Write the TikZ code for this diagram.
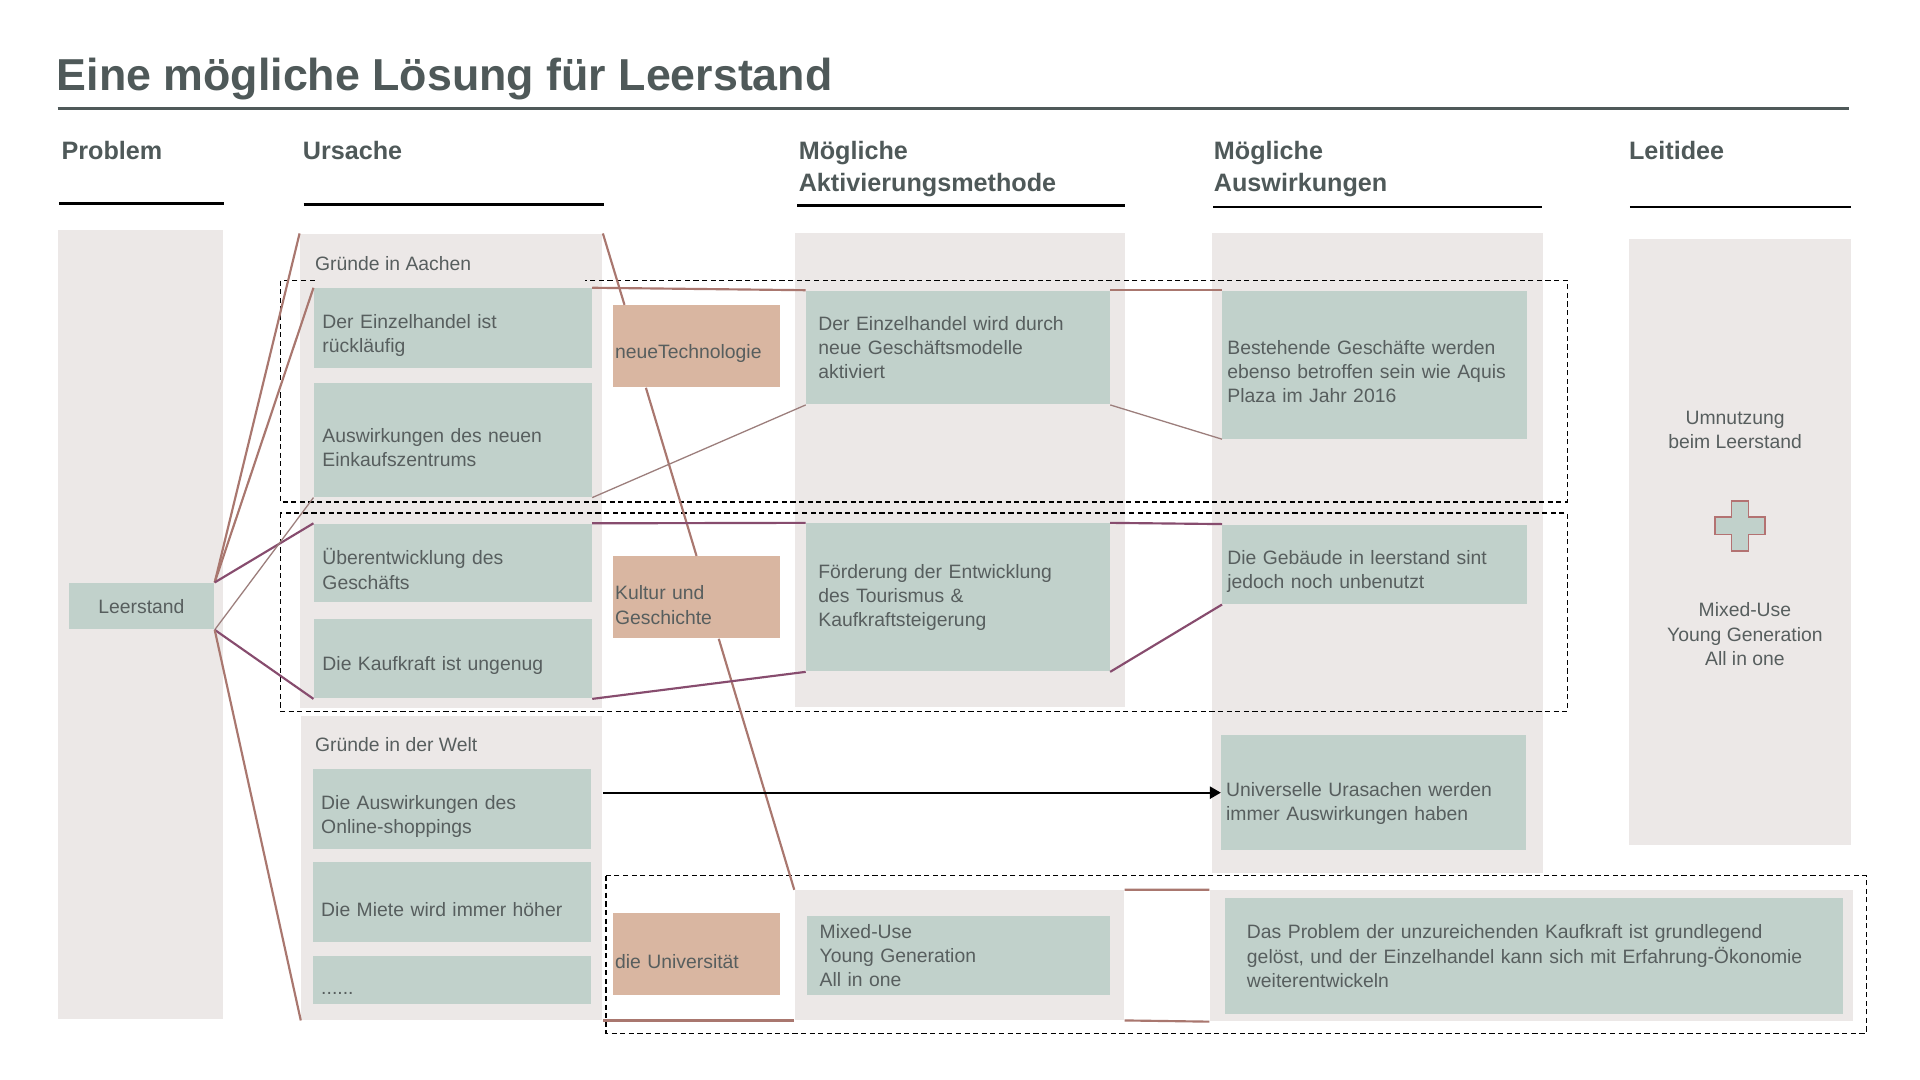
\documentclass[tikz,border=0pt]{standalone}
\usepackage{fontspec}
\setmainfont{Liberation Sans}
\usetikzlibrary{positioning,fit,arrows.meta}

\definecolor{pgray}{HTML}{ECE8E7}
\definecolor{sage}{HTML}{C1D1CB}
\definecolor{sand}{HTML}{D9B6A1}
\definecolor{ink}{HTML}{575E5E}
\definecolor{slate}{HTML}{4F5959}
\definecolor{rust}{HTML}{A9776F}
\definecolor{plum}{HTML}{874C6E}
\definecolor{mauve}{HTML}{9C7E7C}
\definecolor{crossred}{HTML}{B37272}

\begin{document}
\begin{tikzpicture}[x=0.02cm,y=-0.02cm,
    panel/.style={fill=pgray,draw=none,inner sep=0pt},
    card/.style={fill=sage,anchor=north west,align=left,inner ysep=0pt,text=ink,
      font=\fontsize{9}{11.3}\selectfont},
    low/.style={execute at begin node={\vskip#1}},
    ursache/.style={card,text width=4.26cm,inner xsep=0.14cm,low=2pt},
    aktiv/.style={card,text width=4.56cm,inner xsep=0.2cm},
    wirkung/.style={card,text width=4.82cm,inner xsep=0.08cm,low=1.7pt},
    tag/.style={card,fill=sand,text width=2.66cm,inner xsep=0.04cm,minimum height=1.34cm,low=2.3pt},
    lbl/.style={anchor=west,inner sep=0pt,text=ink,font=\fontsize{9}{11.3}\selectfont},
    head/.style={anchor=north west,inner sep=0pt,align=left,text=slate,
      font=\fontsize{11.7}{14.7}\selectfont\bfseries},
    rule/.style={line width=1.3pt},
    frame/.style={line width=0.6pt,dash pattern=on 2.4pt off 1.6pt},
    link/.style={rust,line width=1pt},
    thin/.style={mauve,line width=0.6pt},
    plink/.style={plum,line width=1pt}]

  \useasboundingbox (0,0) rectangle (1568,882);
  \fill[white] (0,0) rectangle (1568,882);

  % title
  \node[anchor=base west,inner sep=0pt,text=slate,font=\fontsize{20.8}{24}\selectfont\bfseries]
    (title) at (46,74) {Eine mögliche Lösung für Leerstand};
  \draw[slate,line width=1.4pt] (47,89) -- (1510,89);

  % column heads
  \node[head] (hp) at (50,115) {Problem};
  \node[head] (hu) at (247,115) {Ursache};
  \node[head] (ha) at (652,115) {Mögliche\\Aktivierungsmethode};
  \node[head] (hw) at (991,115) {Mögliche\\Auswirkungen};
  \node[head] (hl) at (1330,115) {Leitidee};
  \draw[rule] (48,166) -- (183,166);
  \draw[rule] (248,167) -- (493,167);
  \draw[rule] (651,168) -- (919,168);
  \draw[rule] (991,169) -- (1259,169);
  \draw[rule] (1331,169) -- (1512,169);

  % background panels
  \node[panel,fit={(47,188) (182,832)}] (pprob) {};
  \node[panel,fit={(245,191) (492,578)}] (paachen) {};
  \node[panel,fit={(246,585) (492,833)}] (pwelt) {};
  \node[panel,fit={(649,190) (919,577)}] (pakt) {};
  \node[panel,fit={(649,727) (918,833)}] (pmix) {};
  \node[panel,fit={(990,190) (1260,713)}] (pausw) {};
  \node[panel,fit={(988,727) (1513,834)}] (perg) {};
  \node[panel,fit={(1330,195) (1512,690)}] (pleit) {};

  % dashed groups
  \draw[frame] (257,229) -- (229,229) -- (229,410) -- (1280,410) -- (1280,229) -- (478,229);
  \draw[frame] (229,419) rectangle (1280,581);
  \draw[frame] (495,715) rectangle (1524,844);

  % Problem
  \node[card,anchor=center,align=center,minimum width=2.38cm,minimum height=0.76cm]
    (leer) at (115.5,495) {Leerstand};

  % Ursache
  \node[lbl] (ga) at (257,215) {Gründe in Aachen};
  \node[ursache,minimum height=1.3cm] (ein) at (256,235) {Der Einzelhandel ist\\rückläufig};
  \node[ursache,minimum height=1.86cm,below=0.24cm of ein] (aus) {Auswirkungen des neuen\\Einkaufszentrums};
  \node[ursache,minimum height=1.28cm,below=0.42cm of aus] (ueber) {Überentwicklung des\\Geschäfts};
  \node[ursache,minimum height=1.3cm,below=0.26cm of ueber] (kauf) {Die Kaufkraft ist ungenug};
  \node[lbl] (gw) at (257,608) {Gründe in der Welt};
  \node[ursache,minimum height=1.3cm] (online) at (255,628) {Die Auswirkungen des\\Online-shoppings};
  \node[ursache,minimum height=1.3cm,below=0.2cm of online] (miete) {Die Miete wird immer höher};
  \node[ursache,minimum height=0.78cm,below=0.22cm of miete] (dots) {......};

  \node[tag] (tech) at (500,249) {neueTechnologie};
  \node[tag] (kultur) at (500,454) {Kultur und\\Geschichte};
  \node[tag] (uni) at (500,745) {die Universität};

  % Aktivierungsmethode
  \node[aktiv,minimum height=1.86cm] (akt1) at (658,237) {Der Einzelhandel wird durch\\neue Geschäftsmodelle\\aktiviert};
  \node[aktiv,minimum height=2.42cm] (akt2) at (658,427) {Förderung der Entwicklung\\des Tourismus \&\\Kaufkraftsteigerung};
  \node[aktiv,minimum height=1.28cm,text width=4.54cm] (akt3) at (659,748) {Mixed-Use\\Young Generation\\All in one};

  % Auswirkungen
  \node[wirkung,minimum height=2.42cm] (wirk1) at (998,237) {Bestehende Geschäfte werden\\ebenso betroffen sein wie Aquis\\Plaza im Jahr 2016};
  \node[wirkung,minimum height=1.3cm] (wirk2) at (998,428) {Die Gebäude in leerstand sint\\jedoch noch unbenutzt};
  \node[wirkung,minimum height=1.88cm,low=3.4pt] (wirk3) at (997,600) {Universelle Urasachen werden\\immer Auswirkungen haben};
  \node[card,text width=9.38cm,inner xsep=0.36cm,minimum height=1.9cm] (wirk4) at (1000,733)
    {Das Problem der unzureichenden Kaufkraft ist grundlegend\\gelöst, und der Einzelhandel kann sich mit Erfahrung-Ökonomie\\weiterentwickeln};

  % Leitidee
  \node[lbl,anchor=center,align=center] (umn) at (1417,351) {Umnutzung\\beim Leerstand};
  \draw[crossred,fill=sage,line width=0.8pt] (1414,409) -- (1428,409) -- (1428,422.5) -- (1441.5,422.5)
    -- (1441.5,436.5) -- (1428,436.5) -- (1428,450) -- (1414,450) -- (1414,436.5)
    -- (1400.5,436.5) -- (1400.5,422.5) -- (1414,422.5) -- cycle;
  \node[lbl,anchor=center,align=center] (mix) at (1425,518) {Mixed-Use\\Young Generation\\All in one};

  % connectors
  \draw[link] (leer.north east) -- (paachen.north west);
  \draw[link] (leer.north east) -- (ein.north west);
  \draw[plink] (leer.north east) -- (ueber.north west);
  \draw[thin] (leer.south east) -- (aus.south west);
  \draw[plink] (leer.south east) -- (kauf.south west);
  \draw[link] (leer.south east) -- (pwelt.south west);

  \draw[link] (paachen.north east) -- ([xshift=0.2cm]tech.north west);
  \draw[link] ([xshift=0.55cm]tech.south west) -- (kultur.north);
  \draw[link] ([xshift=1.74cm]kultur.south west) -- (pmix.north west);
  \draw[link] (pwelt.south east) -- (pmix.south west);

  \draw[link] (ein.north east) -- (akt1.north west);
  \draw[thin] (aus.south east) -- (akt1.south west);
  \draw[plink] (ueber.north east) -- (akt2.north west);
  \draw[plink] (kauf.south east) -- (akt2.south west);

  \draw[link] (akt1.north east) -- (wirk1.north west);
  \draw[thin] (akt1.south east) -- (wirk1.south west);
  \draw[plink] (akt2.north east) -- (wirk2.north west);
  \draw[plink] (akt2.south east) -- (wirk2.south west);
  \draw[link] (pmix.north east) -- (perg.north west);
  \draw[link] (pmix.south east) -- (perg.south west);

  \draw[line width=0.9pt,-{Triangle[length=0.18cm,width=0.2cm]}] (wirk3.west -| pwelt.east) -- (wirk3.west);
\end{tikzpicture}
\end{document}
